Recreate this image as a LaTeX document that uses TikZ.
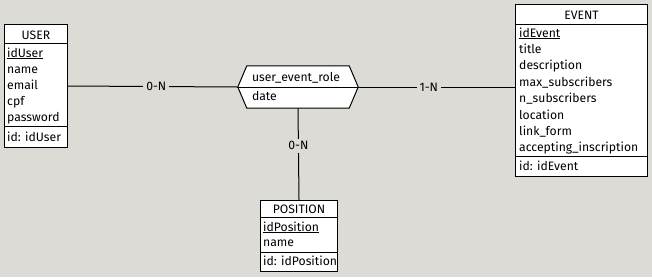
\documentclass[tikz,border=0pt]{standalone}
\usepackage{fontspec}
\setmainfont{Fira Sans}
\usetikzlibrary{positioning}
\definecolor{panel}{RGB}{220,219,214}

\begin{document}
\begin{tikzpicture}[x=1pt,y=-1pt,
  box/.style={draw,fill=white,line width=1pt,anchor=north west,inner sep=0pt},
  txt/.style={inner sep=0pt,font=\fontsize{12.2}{14}\selectfont},
  title/.style={txt,anchor=base},
  attr/.style={txt,anchor=base west},
  card/.style={txt,fill=panel,inner sep=3pt}]
  % canvas
  \fill[panel] (0,0) rectangle (652,277);
  % Entity: USER
  \node[box,minimum width=63,minimum height=123] (user) at (4,24) {};
  \path (user.north) ++(0,15) node[title] (user-title) {USER};
  \draw[line width=1pt] (user.north west) ++(0,19) -- ++(63,0);
  \foreach \a [count=\i from 0] in {\underline{idUser},name,email,cpf,password}
    \path (user.north west) ++(3,{33+16.2*\i}) node[attr] (user-a\i) {\a};
  \draw[line width=1pt] (user.north west) ++(0,102) -- ++(63,0);
  \path (user.north west) ++(3,117) node[attr] (user-id) {id: idUser};
  % Entity: EVENT
  \node[box,minimum width=132,minimum height=172] (event) at (515,4) {};
  \path (event.north) ++(0,15.5) node[title] (event-title) {EVENT};
  \draw[line width=1pt] (event.north west) ++(0,20) -- ++(132,0);
  \foreach \a [count=\i from 0] in {\underline{idEvent},title,description,max\_subscribers,
      n\_subscribers,location,link\_form,accepting\_inscription}
    \path (event.north west) ++(4,{33+16.4*\i}) node[attr] (event-a\i) {\a};
  \draw[line width=1pt] (event.north west) ++(0,152) -- ++(132,0);
  \path (event.north west) ++(4,166) node[attr] (event-id) {id: idEvent};
  % Entity: POSITION
  \node[box,minimum width=77,minimum height=71] (position) at (260,200) {};
  \path (position.north) ++(0,13) node[title] (position-title) {POSITION};
  \draw[line width=1pt] (position.north west) ++(0,17) -- ++(77,0);
  \foreach \a [count=\i from 0] in {\underline{idPosition},name}
    \path (position.north west) ++(3,{31+15.5*\i}) node[attr] (position-a\i) {\a};
  \draw[line width=1pt] (position.north west) ++(0,52) -- ++(77,0);
  \path (position.north west) ++(3,65) node[attr] (position-id) {id: idPosition};
  % Relationship: user_event_role
  \node[minimum width=120,minimum height=42,inner sep=0pt] (rel) at (298,87) {};
  % links with cardinalities
  \draw[line width=1pt] (user.east) -- (rel.west) node[card,pos=.52] (card-user) {0-N};
  \draw[line width=1pt] (rel.east) -- (rel.east -| event.west) node[card,pos=.45] (card-event) {1-N};
  \draw[line width=1pt] (rel.south) -- (position.north) node[card,pos=.41] (card-position) {0-N};
  \draw[line width=1pt,fill=white] (rel.west) -- ([xshift=9pt]rel.north west)
    -- ([xshift=-9pt]rel.north east) -- (rel.east) -- ([xshift=-9pt]rel.south east)
    -- ([xshift=9pt]rel.south west) -- cycle;
  \draw[line width=1pt] (rel.west) -- (rel.east);
  \path (rel.north west) ++(14,16) node[attr] (rel-name) {user\_event\_role};
  \path (rel.north west) ++(14,35) node[attr] (rel-a0) {date};
\end{tikzpicture}
\end{document}
